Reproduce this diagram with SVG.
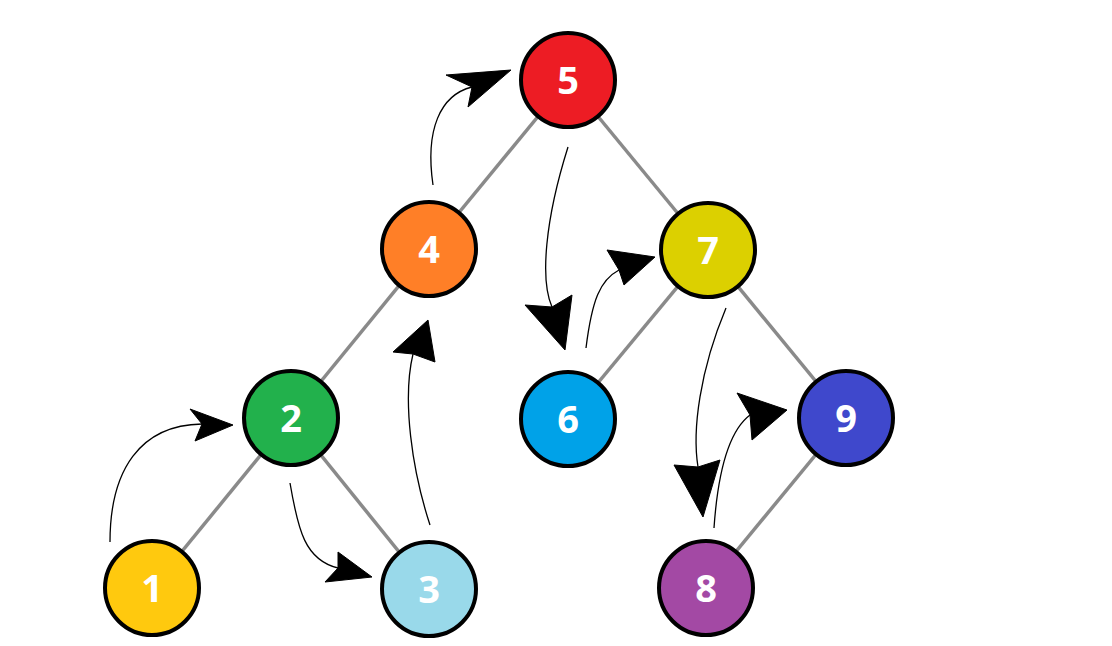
<svg xmlns="http://www.w3.org/2000/svg" width="1112" height="646" viewBox="0 0 1112 646">
<style>
.edge{stroke:#8a8a8a;stroke-width:3.5;fill:none}
.arc{stroke:#000;stroke-width:1.3;fill:none}
.head{fill:#000;stroke:#000;stroke-width:1;stroke-linejoin:miter}
.node circle{stroke:#000;stroke-width:4}
.node text{font-family:"Open Sans","DejaVu Sans",sans-serif;font-weight:bold;font-size:38px;fill:#fff;text-anchor:middle}
</style>
<rect width="1112" height="646" fill="#fff"/>
<g id="connectors">
<line class="edge" x1="152" y1="588" x2="291" y2="418"/>
<line class="edge" x1="291" y1="418" x2="429" y2="589"/>
<line class="edge" x1="291" y1="418" x2="429" y2="249"/>
<line class="edge" x1="429" y1="249" x2="568" y2="80"/>
<line class="edge" x1="568" y1="80" x2="708" y2="250"/>
<line class="edge" x1="708" y1="250" x2="568" y2="419"/>
<line class="edge" x1="708" y1="250" x2="846" y2="418"/>
<line class="edge" x1="846" y1="418" x2="706" y2="588"/>
<path class="arc" d="M110,542 C110,470 140,425 202,424"/>
<polygon class="head" points="233,425 190,409 202,424 195,441"/>
<path class="arc" d="M290,483 C298,530 305,560 338,568"/>
<polygon class="head" points="372,577 338,552 338,568 325,582"/>
<path class="arc" d="M430,525 C412,470 402,400 413,354"/>
<polygon class="head" points="428,320 393,352 413,354 435,362"/>
<path class="arc" d="M433,185 C425,130 440,95 472,87"/>
<polygon class="head" points="511,70 446,75 472,87 468,107"/>
<path class="arc" d="M568,147 C545,220 540,280 552,307"/>
<polygon class="head" points="565,350 525,305 552,307 572,295"/>
<path class="arc" d="M586,348 C592,300 600,280 619,270"/>
<polygon class="head" points="655,257 607,250 619,270 624,285"/>
<path class="arc" d="M726,308 C700,370 692,430 698,467"/>
<polygon class="head" points="703,517 674,465 698,467 720,460"/>
<path class="arc" d="M714,528 C718,470 730,430 750,415"/>
<polygon class="head" points="787,410 737,393 750,415 752,440"/>
</g>
<g id="n1" class="node"><circle cx="152" cy="588" r="47" fill="#FFC90E"/><text x="152" y="602">1</text></g>
<g id="n2" class="node"><circle cx="291" cy="418" r="47" fill="#22B14C"/><text x="291" y="432">2</text></g>
<g id="n3" class="node"><circle cx="429" cy="589" r="47" fill="#99D9EA"/><text x="429" y="603">3</text></g>
<g id="n4" class="node"><circle cx="429" cy="249" r="47" fill="#FF7F27"/><text x="429" y="263">4</text></g>
<g id="n5" class="node"><circle cx="568" cy="80" r="47" fill="#ED1C24"/><text x="568" y="94">5</text></g>
<g id="n6" class="node"><circle cx="568" cy="419" r="47" fill="#00A2E8"/><text x="568" y="433">6</text></g>
<g id="n7" class="node"><circle cx="708" cy="250" r="47" fill="#DCD000"/><text x="708" y="264">7</text></g>
<g id="n8" class="node"><circle cx="706" cy="588" r="47" fill="#A349A4"/><text x="706" y="602">8</text></g>
<g id="n9" class="node"><circle cx="846" cy="418" r="47" fill="#3F48CC"/><text x="846" y="432">9</text></g>
</svg>
